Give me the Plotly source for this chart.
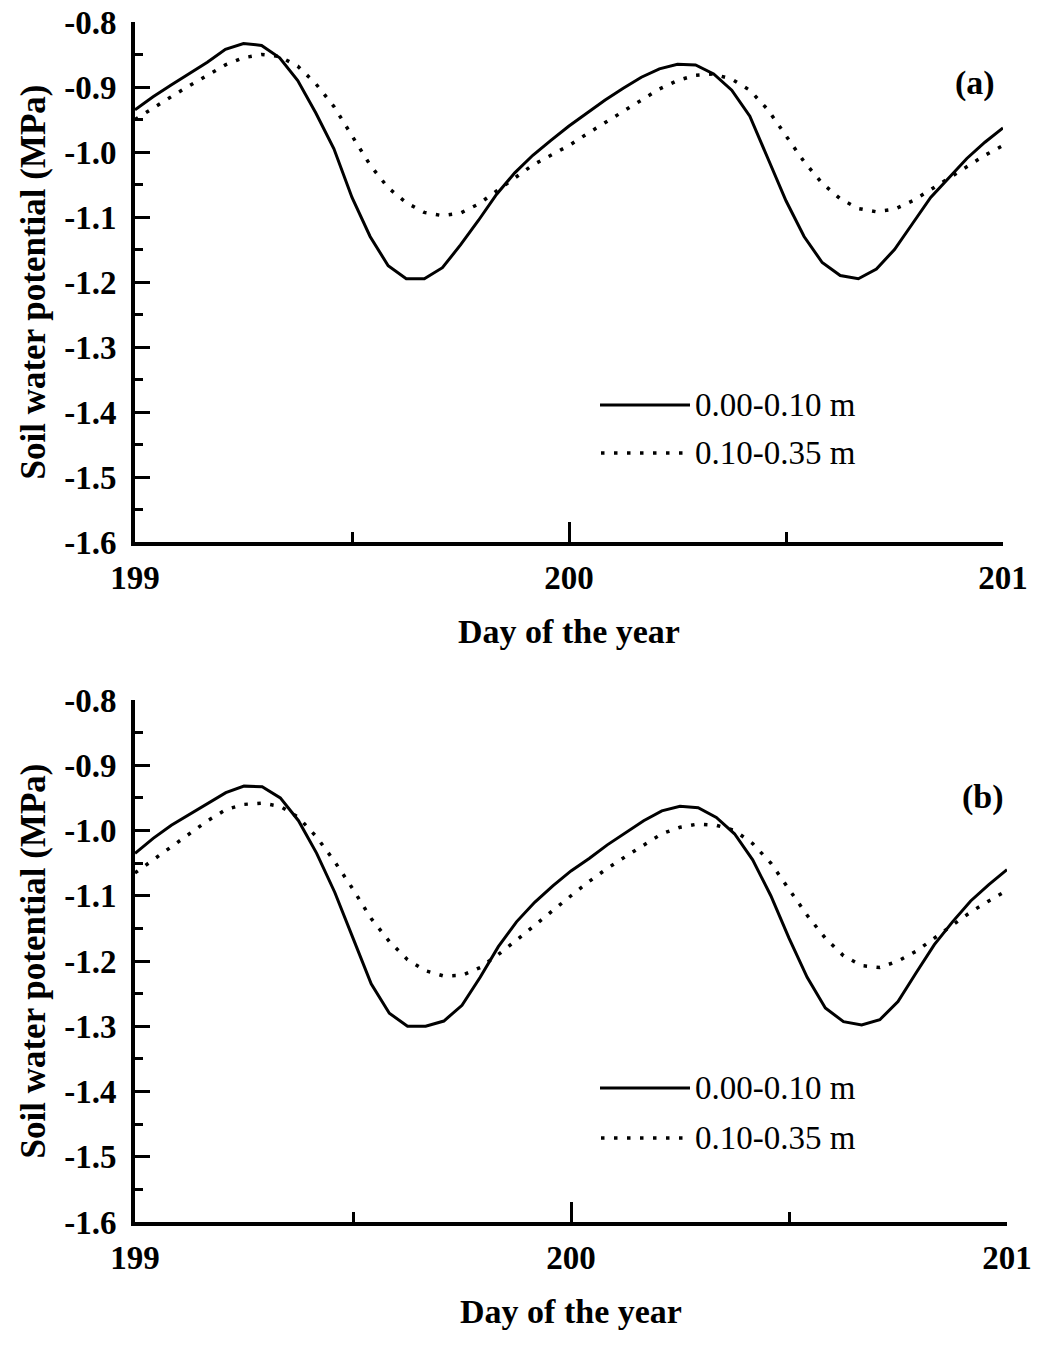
import plotly.graph_objects as go

# ---------------- data (hourly values, day 199.0 -> 201.0) ----------------
hours = list(range(49))
days = [199 + h / 24 for h in hours]

top_shallow = [-0.935, -0.915, -0.897, -0.880, -0.862, -0.842, -0.833, -0.836, -0.855, -0.890,
               -0.940, -0.995, -1.070, -1.130, -1.175, -1.195, -1.195, -1.178, -1.143, -1.105,
               -1.065, -1.032, -1.005, -0.982, -0.960, -0.940, -0.920, -0.902, -0.885, -0.872,
               -0.865, -0.866, -0.880, -0.905, -0.945, -1.010, -1.075, -1.130, -1.170, -1.190,
               -1.195, -1.180, -1.150, -1.110, -1.070, -1.040, -1.010, -0.985, -0.963]
top_deep = [-0.950, -0.932, -0.915, -0.898, -0.882, -0.866, -0.855, -0.850, -0.853, -0.868,
            -0.895, -0.930, -0.975, -1.020, -1.055, -1.078, -1.093, -1.098, -1.094, -1.080,
            -1.060, -1.040, -1.020, -1.005, -0.990, -0.972, -0.955, -0.938, -0.920, -0.903,
            -0.890, -0.882, -0.880, -0.888, -0.905, -0.935, -0.975, -1.015, -1.048, -1.072,
            -1.087, -1.092, -1.088, -1.075, -1.058, -1.040, -1.022, -1.005, -0.990]
bot_shallow = [-1.035, -1.012, -0.992, -0.975, -0.958, -0.942, -0.932, -0.933, -0.950, -0.985,
               -1.035, -1.095, -1.165, -1.235, -1.280, -1.300, -1.300, -1.292, -1.268, -1.225,
               -1.178, -1.140, -1.110, -1.085, -1.062, -1.043, -1.022, -1.003, -0.985, -0.970,
               -0.963, -0.965, -0.980, -1.005, -1.045, -1.100, -1.165, -1.225, -1.272, -1.293,
               -1.298, -1.290, -1.262, -1.218, -1.175, -1.140, -1.108, -1.083, -1.060]
bot_deep = [-1.065, -1.045, -1.025, -1.005, -0.985, -0.968, -0.960, -0.958, -0.963, -0.980,
            -1.010, -1.048, -1.090, -1.135, -1.170, -1.198, -1.215, -1.223, -1.222, -1.210,
            -1.190, -1.168, -1.145, -1.122, -1.100, -1.078, -1.058, -1.040, -1.022, -1.005,
            -0.995, -0.990, -0.992, -1.000, -1.020, -1.050, -1.090, -1.130, -1.165, -1.192,
            -1.207, -1.210, -1.200, -1.185, -1.165, -1.145, -1.125, -1.108, -1.092]

series_names = ["0.00-0.10 m", "0.10-0.35 m"]
panel_labels = ["(a)", "(b)"]
x_tickvals = [199, 200, 201]
x_ticktext = ["199", "200", "201"]
y_tickvals = [-0.8, -0.9, -1.0, -1.1, -1.2, -1.3, -1.4, -1.5, -1.6]
y_ticktext = ["-0.8", "-0.9", "-1.0", "-1.1", "-1.2", "-1.3", "-1.4", "-1.5", "-1.6"]
x_title = "Day of the year"
y_title = "Soil water potential (MPa)"

# ---------------- layout helpers ----------------
W, H = 1042, 1353
FONT = "Liberation Serif, Times New Roman, serif"
px = lambda x: x / W
py = lambda y: 1 - y / H

fig = go.Figure()

panels = [
    dict(xa="x", ya="y", shallow=top_shallow, deep=top_deep,
         xdom=[px(135), px(1003)], ydom=[py(542), py(22)]),
    dict(xa="x2", ya="y2", shallow=bot_shallow, deep=bot_deep,
         xdom=[px(135), px(1007)], ydom=[py(1222), py(700)]),
]

for p in panels:
    fig.add_trace(go.Scatter(x=days, y=p["shallow"], mode="lines", name=series_names[0],
                             line=dict(color="black", width=3), xaxis=p["xa"], yaxis=p["ya"],
                             showlegend=False))
    fig.add_trace(go.Scatter(x=days, y=p["deep"], mode="lines", name=series_names[1],
                             line=dict(color="black", width=3.5, dash="3.5px,9.5px"),
                             xaxis=p["xa"], yaxis=p["ya"], showlegend=False))


def xaxis(domain, anchor):
    return dict(domain=domain, anchor=anchor, range=[199, 201.0], showgrid=False, zeroline=False,
                showline=True, linecolor="black", linewidth=4,
                tickmode="array", tickvals=x_tickvals, ticktext=x_ticktext,
                ticks="inside", ticklen=20, tickwidth=2.5, tickcolor="black",
                minor=dict(tickmode="array", tickvals=[199.5, 200.5], ticks="inside",
                           ticklen=10, tickwidth=2.5, tickcolor="black"),
                tickfont=dict(family=FONT, size=33, color="black", weight="bold"),
                ticklabelstandoff=3,
                title=dict(text=x_title, standoff=26,
                           font=dict(family=FONT, size=34, color="black", weight="bold")),
                automargin=False)


def yaxis(domain, anchor):
    return dict(domain=domain, anchor=anchor, range=[-1.6, -0.8], showgrid=False, zeroline=False,
                showline=True, linecolor="black", linewidth=4,
                tickmode="array", tickvals=y_tickvals, ticktext=y_ticktext,
                ticks="inside", ticklen=15, tickwidth=3, tickcolor="black",
                minor=dict(dtick=0.05, tick0=-0.8, ticks="inside", ticklen=8,
                           tickwidth=3, tickcolor="black"),
                tickfont=dict(family=FONT, size=33, color="black", weight="bold"),
                ticklabelstandoff=8,
                title=dict(text=y_title, standoff=9,
                           font=dict(family=FONT, size=35, color="black", weight="bold")),
                automargin=False)


fig.update_layout(
    width=W, height=H,
    margin=dict(l=0, r=0, t=0, b=0),
    paper_bgcolor="white", plot_bgcolor="white",
    xaxis=xaxis(panels[0]["xdom"], "y"),
    yaxis=yaxis(panels[0]["ydom"], "x"),
    xaxis2=xaxis(panels[1]["xdom"], "y2"),
    yaxis2=yaxis(panels[1]["ydom"], "x2"),
)

# legend samples + panel labels
legend_pos = [(405, 453, 83), (1088, 1138, 797)]  # (solid y, dotted y, label y)
label_x = [975, 983]
for i, (ys, yd, yl) in enumerate(legend_pos):
    fig.add_shape(type="line", xref="paper", yref="paper", x0=px(600), x1=px(690),
                  y0=py(ys), y1=py(ys), line=dict(color="black", width=3))
    fig.add_shape(type="line", xref="paper", yref="paper", x0=px(601), x1=px(690),
                  y0=py(yd), y1=py(yd), line=dict(color="black", width=3.5, dash="3.5px,9.5px"))
    for j, yy in enumerate([ys, yd]):
        fig.add_annotation(xref="paper", yref="paper", x=px(693), y=py(yy), xanchor="left",
                           yanchor="middle", text=series_names[j], showarrow=False,
                           font=dict(family=FONT, size=33, color="black"))
    fig.add_annotation(xref="paper", yref="paper", x=px(label_x[i]), y=py(yl), xanchor="center",
                       yanchor="middle", text=panel_labels[i], showarrow=False,
                       font=dict(family=FONT, size=34, color="black", weight="bold"))

fig.write_html("out.html")
